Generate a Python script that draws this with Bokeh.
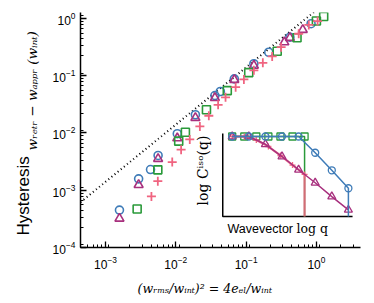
import numpy as np
from bokeh.plotting import figure
from bokeh.models import Range1d, LinearScale, Label, LogTicker, Title
from bokeh.embed import file_html
from bokeh.resources import INLINE

# ---- main panel data (hysteresis vs. (w_rms/w_int)^2) ----
blue_x = [1.58e-3, 2.96e-3, 4.37e-3, 5.6e-3, 1.05e-2, 1.9e-2, 3.6e-2, 4.3e-2, 6.8e-2, 0.129, 0.21, 0.42, 0.84]
blue_y = [4.5e-4, 1.58e-3, 2.3e-3, 4.05e-3, 9.7e-3, 2.08e-2, 4.5e-2, 5.3e-2, 8.8e-2, 0.162, 0.257, 0.47, 0.81]
purple_x = [1.58e-3, 2.96e-3, 5.6e-3, 1.05e-2, 1.9e-2, 3.6e-2, 6.8e-2, 0.129, 0.35, 0.42, 0.64]
purple_y = [3.2e-4, 1.24e-3, 3.55e-3, 8.1e-3, 1.84e-2, 4.1e-2, 8.5e-2, 0.15, 0.385, 0.46, 0.635]
green_x = [2.82e-3, 5.55e-3, 1.1e-2, 1.37e-2, 2.73e-2, 5.4e-2, 0.109, 0.277, 0.53, 1.0, 1.27]
green_y = [4.7e-4, 2.27e-3, 7.2e-3, 1.03e-2, 2.54e-2, 5.5e-2, 0.113, 0.268, 0.46, 0.9, 1.08]
pink_x = [4.5e-3, 5.55e-3, 8.9e-3, 1.19e-2, 1.58e-2, 2.2e-2, 2.95e-2, 4.0e-2, 5.1e-2, 7.1e-2,
          9.3e-2, 0.129, 0.173, 0.235, 0.315, 0.56, 0.78, 1.04]
pink_y = [7.8e-4, 1.44e-3, 3.1e-3, 5.1e-3, 7.7e-3, 1.3e-2, 2.0e-2, 3.1e-2, 4.2e-2, 6.3e-2,
          8.6e-2, 0.124, 0.168, 0.217, 0.315, 0.54, 0.77, 0.9]
guide_x = [4.41e-4, 1.0]
guide_factor = 1.4

# ---- inset data (log C vs log q, arbitrary units) ----
inset_t = [0, 1, 2, 3, 4, 5, 6, 7]
blue_L = [0, 0, 0, 0, 0, -1.25, -2.6, -3.98]
purple_L = [0, 0, -0.6, -1.54, -2.56, -3.56, -4.62, -5.64]
cut_t = [0, 0.727, 1.453, 2.18, 2.907, 3.633, 4.36]
green_L = [0, 0, 0, 0, 0, 0, 0]
pink_L = [0, 0, -0.27, -0.77, -1.46, -2.2, -2.92]
inset_t_lim = (-0.57, 7.25)
inset_L_lim = (-6.15, 0.23)

BLUE = "#3f7cb8"
PURPLE = "#a8307e"
GREEN = "#2a9a3a"
PINK = "#f06480"

p = figure(width=374, height=303, x_axis_type="log", y_axis_type="log",
           x_range=Range1d(4.41e-4, 4.24), y_range=Range1d(1e-4, 1.27),
           output_backend="svg", toolbar_location=None,
           min_border_left=80, min_border_right=14, min_border_top=12, min_border_bottom=56)
p.outline_line_color = None
p.xgrid.visible = False
p.ygrid.visible = False
p.background_fill_color = None
p.border_fill_color = "white"

for ax in (p.xaxis[0], p.yaxis[0]):
    ax.ticker = LogTicker(desired_num_ticks=5, num_minor_ticks=9)
    ax.axis_line_width = 1.5
    ax.major_tick_in = 6
    ax.major_tick_out = 0
    ax.minor_tick_in = 3
    ax.minor_tick_out = 0
    ax.major_tick_line_width = 1.3
    ax.minor_tick_line_width = 1.0
    ax.major_label_text_font = "Liberation Sans"
    ax.major_label_text_font_size = "12px"
    ax.major_label_text_color = "black"
p.xaxis.major_label_standoff = 8
p.yaxis.major_label_standoff = 5

# dotted guide
gy = [guide_factor * v for v in guide_x]
p.line(guide_x, gy, line_color="black", line_width=2, line_dash="1 3")

p.scatter(blue_x, blue_y, marker="circle", size=8, fill_color=None, line_color=BLUE, line_width=1.6)
p.scatter(purple_x, purple_y, marker="triangle", size=9, fill_color=None, line_color=PURPLE, line_width=1.6)
p.scatter(green_x, green_y, marker="square", size=8, fill_color=None, line_color=GREEN, line_width=1.6)
p.scatter(pink_x, pink_y, marker="cross", size=9, line_color=PINK, line_width=1.8)

# ---- inset via extra linear ranges ----
p.extra_x_ranges = {"ix": Range1d(-9.139, 7.729)}
p.extra_x_scales = {"ix": LinearScale()}
p.extra_y_ranges = {"iy": Range1d(-8.538, 9.538)}
p.extra_y_scales = {"iy": LinearScale()}
kw = dict(x_range_name="ix", y_range_name="iy")

t0, t1 = inset_t_lim
L0, L1 = inset_L_lim
p.line([t0, t0, t1], [L1, L0, L0], line_color="black", line_width=1.5, **kw)

p.line(cut_t + [cut_t[-1]], green_L + [L0], line_color=GREEN, line_width=1.5, **kw)
p.scatter(cut_t, green_L, marker="square", size=7, fill_color=None, line_color=GREEN, line_width=1.3, **kw)
p.line(cut_t + [cut_t[-1]], pink_L + [L0], line_color=PINK, line_width=2.2, alpha=0.85, **kw)
p.scatter(cut_t, pink_L, marker="cross", size=6, line_color=PINK, line_width=1.3, **kw)
p.line(inset_t, purple_L, line_color=PURPLE, line_width=1.5, **kw)
p.scatter(inset_t, purple_L, marker="triangle", size=8, fill_color=None, line_color=PURPLE, line_width=1.3, **kw)
p.line(inset_t + [inset_t[-1]], blue_L + [L0], line_color=BLUE, line_width=1.5, **kw)
p.scatter(inset_t, blue_L, marker="circle", size=7, fill_color=None, line_color=BLUE, line_width=1.3, **kw)

# ---- inset labels (inside the frame) ----
def lab(text, x, y, font, size, angle=0.0, style="normal", align="center"):
    p.add_layout(Label(x=x, y=y, x_units="screen", y_units="screen", text=text,
                       text_font=font, text_font_size=size, text_font_style=style,
                       text_align=align, text_baseline="middle", angle=angle,
                       text_color="black"))

lab("log Cⁱˢᵒ(q)", 122, 77, "DejaVu Serif", "14px", angle=np.pi / 2)
lab("Wavevector", 147, 19, "Liberation Sans", "12.5px", align="left")
lab("log q", 216, 19, "DejaVu Serif", "12.5px", align="left")

# ---- outer axis titles ----
p.add_layout(Title(text="wᵣₑₜᵣ − wₐₚₚᵣ     (wᵢₙₜ)", align="left", offset=97, standoff=20,
                   text_font="DejaVu Serif", text_font_style="italic", text_font_size="13.5px",
                   text_color="black"), "left")
p.add_layout(Title(text="Hysteresis", align="left", offset=12, standoff=-42,
                   text_font="Liberation Sans", text_font_style="normal", text_font_size="17px",
                   text_color="black"), "left")
p.add_layout(Title(text="(wᵣₘₛ/wᵢₙₜ)² = 4eₑₗ/wᵢₙₜ", align="left", offset=57, standoff=15,
                   text_font="DejaVu Serif", text_font_style="italic", text_font_size="12.5px",
                   text_color="black"), "below")

open("out.html", "w").write(file_html(p, INLINE))
